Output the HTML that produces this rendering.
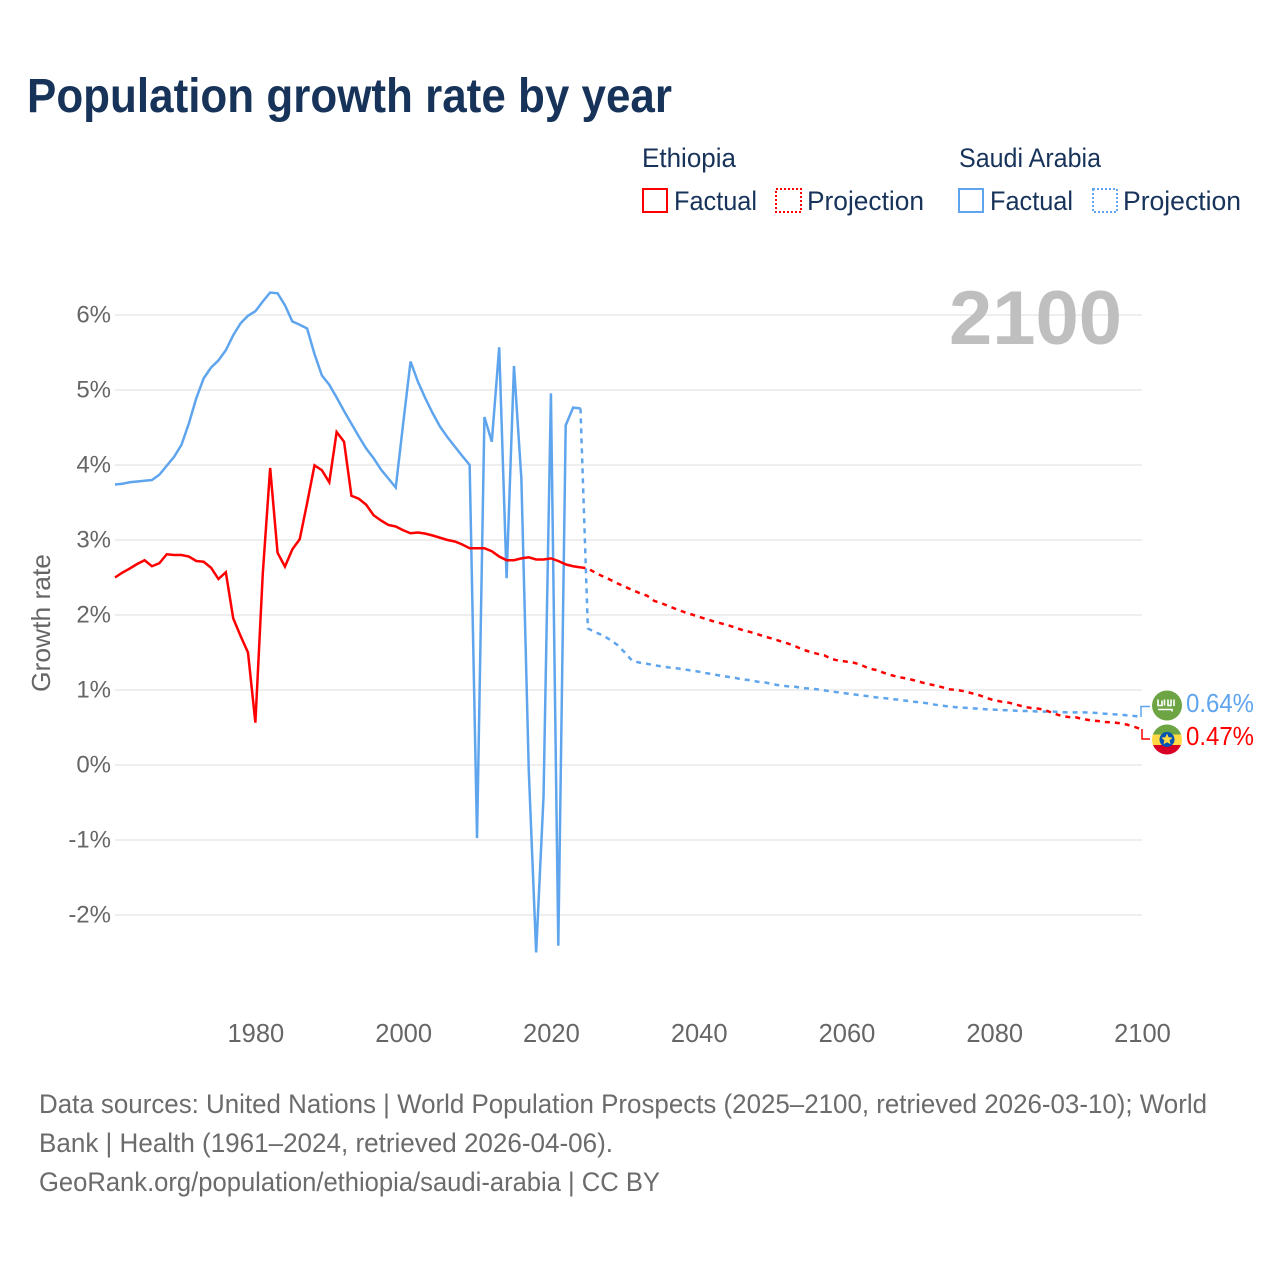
<!DOCTYPE html>
<html lang="en">
<head>
<meta charset="utf-8">
<title>Population growth rate by year</title>
<style>
html,body{margin:0;padding:0;background:#fff}
svg{display:block;font-family:"Liberation Sans",sans-serif}
</style>
</head>
<body>
<svg id="chart" xmlns="http://www.w3.org/2000/svg" width="1280" height="1280" viewBox="0 0 1280 1280">
  <rect x="0" y="0" width="1280" height="1280" fill="#ffffff"/>
  <text x="27" y="112" font-size="48" font-weight="700" fill="#17335a" textLength="645" lengthAdjust="spacingAndGlyphs">Population growth rate by year</text>

  <g font-size="27" fill="#17335a">
    <text x="642" y="167" textLength="94" lengthAdjust="spacingAndGlyphs">Ethiopia</text>
    <rect x="643" y="189" width="24" height="23" fill="none" stroke="#ff0000" stroke-width="2"/>
    <text x="674" y="210" textLength="83" lengthAdjust="spacingAndGlyphs">Factual</text>
    <rect x="776" y="189" width="25" height="23" fill="none" stroke="#ff0000" stroke-width="2" stroke-dasharray="2 2"/>
    <text x="807" y="210" textLength="117" lengthAdjust="spacingAndGlyphs">Projection</text>
    <text x="959" y="167" textLength="142" lengthAdjust="spacingAndGlyphs">Saudi Arabia</text>
    <rect x="959" y="189" width="24" height="23" fill="none" stroke="#5fa5ee" stroke-width="2"/>
    <text x="990" y="210" textLength="83" lengthAdjust="spacingAndGlyphs">Factual</text>
    <rect x="1093" y="189" width="24" height="23" fill="none" stroke="#5fa5ee" stroke-width="2" stroke-dasharray="2 2"/>
    <text x="1123" y="210" textLength="118" lengthAdjust="spacingAndGlyphs">Projection</text>
  </g>

  <g id="grid"></g>
  <text x="949" y="344" font-size="76" font-weight="700" fill="#bfbfbf" textLength="173" lengthAdjust="spacingAndGlyphs">2100</text>
  <g id="yticks" font-size="24" fill="#666666" text-anchor="end"></g>
  <g id="xticks" font-size="25.5" fill="#666666" text-anchor="middle"></g>
  <text transform="translate(50,692) rotate(-90)" font-size="26" fill="#666666" textLength="138" lengthAdjust="spacingAndGlyphs">Growth rate</text>
  <g id="series"></g>

  <g>
    <path d="M1141 717V706.5H1150" fill="none" stroke="#5fa5ee" stroke-width="1.5"/>
    <g>
      <circle cx="1167" cy="705.5" r="15" fill="#6da544"/>
      <path d="M1158 699.5v6h4v-5M1164.5 699.5v6M1168 699.5v6h3v-6M1174 699.5v6.5" fill="none" stroke="#ffffff" stroke-width="1.6"/>
      <path d="M1158 709.5h14v2" fill="none" stroke="#ffffff" stroke-width="1.6"/>
    </g>
    <text x="1186" y="712" font-size="26" fill="#5fa5ee" textLength="68" lengthAdjust="spacingAndGlyphs">0.64%</text>
  </g>
  <g>
    <path d="M1142 729V739H1150" fill="none" stroke="#ff0000" stroke-width="1.5"/>
    <g>
      <clipPath id="eth-clip"><circle cx="1167" cy="739.5" r="15"/></clipPath>
      <g clip-path="url(#eth-clip)">
        <rect x="1152" y="724" width="30" height="10.5" fill="#6da544"/>
        <rect x="1152" y="734.5" width="30" height="10.5" fill="#ffda44"/>
        <rect x="1152" y="745" width="30" height="10.5" fill="#d80027"/>
      </g>
      <circle cx="1167" cy="739.5" r="7.5" fill="#0052b4"/>
      <polygon points="1167,733.5 1168.6,737.3 1172.7,737.6 1169.6,740.3 1170.5,744.3 1167,742.2 1163.5,744.3 1164.4,740.3 1161.3,737.6 1165.4,737.3" fill="#ffda44"/>
    </g>
    <text x="1186" y="745" font-size="26" fill="#ff0000" textLength="68" lengthAdjust="spacingAndGlyphs">0.47%</text>
  </g>

  <g font-size="26.5" fill="#6b6b6b">
    <text x="39" y="1113" textLength="1168" lengthAdjust="spacingAndGlyphs">Data sources: United Nations | World Population Prospects (2025–2100, retrieved 2026-03-10); World</text>
    <text x="39" y="1152" textLength="574" lengthAdjust="spacingAndGlyphs">Bank | Health (1961–2024, retrieved 2026-04-06).</text>
    <text x="39" y="1191" textLength="621" lengthAdjust="spacingAndGlyphs">GeoRank.org/population/ethiopia/saudi-arabia | CC BY</text>
  </g>
</svg>
<script>
const factualYears = [1961,1962,1963,1964,1965,1966,1967,1968,1969,1970,1971,1972,1973,1974,1975,1976,1977,1978,1979,1980,1981,1982,1983,1984,1985,1986,1987,1988,1989,1990,1991,1992,1993,1994,1995,1996,1997,1998,1999,2000,2001,2002,2003,2004,2005,2006,2007,2008,2009,2010,2011,2012,2013,2014,2015,2016,2017,2018,2019,2020,2021,2022,2023,2024];
const projectionYears = [2025,2026,2027,2028,2029,2030,2031,2032,2033,2034,2035,2036,2037,2038,2039,2040,2041,2042,2043,2044,2045,2046,2047,2048,2049,2050,2051,2052,2053,2054,2055,2056,2057,2058,2059,2060,2061,2062,2063,2064,2065,2066,2067,2068,2069,2070,2071,2072,2073,2074,2075,2076,2077,2078,2079,2080,2081,2082,2083,2084,2085,2086,2087,2088,2089,2090,2091,2092,2093,2094,2095,2096,2097,2098,2099,2100];
const ethiopiaFactual = [2.50,2.565,2.62,2.68,2.73,2.65,2.69,2.81,2.80,2.80,2.78,2.72,2.71,2.63,2.48,2.57,1.955,1.72,1.50,0.565,2.55,3.96,2.83,2.645,2.875,3.01,3.49,3.995,3.93,3.77,4.44,4.31,3.59,3.55,3.47,3.33,3.26,3.20,3.18,3.13,3.09,3.10,3.085,3.06,3.03,3.00,2.98,2.94,2.89,2.89,2.89,2.85,2.78,2.73,2.73,2.755,2.77,2.74,2.74,2.755,2.72,2.675,2.65,2.635];
const saudiFactual = [3.74,3.75,3.77,3.78,3.79,3.80,3.87,3.99,4.11,4.27,4.555,4.89,5.155,5.30,5.395,5.53,5.73,5.89,5.99,6.05,6.18,6.30,6.29,6.13,5.915,5.87,5.82,5.48,5.195,5.07,4.90,4.72,4.55,4.38,4.22,4.09,3.94,3.82,3.70,4.55,5.38,5.11,4.89,4.69,4.51,4.37,4.245,4.12,4.00,-0.975,4.64,4.31,5.57,2.49,5.32,3.82,-0.07,-2.50,-0.42,4.955,-2.41,4.53,4.765,4.755];
const ethiopiaProjection = [2.622,2.564,2.516,2.471,2.422,2.378,2.333,2.293,2.258,2.187,2.156,2.116,2.076,2.04,2.009,1.978,1.947,1.916,1.889,1.862,1.831,1.796,1.773,1.742,1.711,1.684,1.653,1.622,1.587,1.542,1.511,1.484,1.462,1.413,1.391,1.378,1.364,1.333,1.289,1.267,1.231,1.2,1.173,1.156,1.133,1.107,1.08,1.062,1.036,1.009,1.0,0.982,0.956,0.929,0.893,0.862,0.844,0.831,0.804,0.778,0.76,0.751,0.729,0.689,0.658,0.64,0.636,0.613,0.596,0.587,0.573,0.569,0.556,0.538,0.507,0.476];
const saudiProjection = [1.82,1.77,1.73,1.67,1.60,1.50,1.39,1.365,1.35,1.33,1.315,1.30,1.29,1.275,1.26,1.245,1.225,1.21,1.19,1.175,1.16,1.14,1.13,1.11,1.10,1.08,1.06,1.05,1.045,1.025,1.02,1.01,0.995,0.98,0.967,0.954,0.941,0.929,0.916,0.902,0.893,0.88,0.871,0.858,0.844,0.836,0.822,0.804,0.791,0.778,0.769,0.764,0.756,0.751,0.742,0.738,0.733,0.729,0.724,0.72,0.72,0.711,0.711,0.711,0.707,0.702,0.702,0.702,0.698,0.693,0.684,0.676,0.671,0.662,0.653,0.64];
const yTickValues = [-2,-1,0,1,2,3,4,5,6];
const yTickLabels = ["-2%","-1%","0%","1%","2%","3%","4%","5%","6%"];
const xTickValues = [1980,2000,2020,2040,2060,2080,2100];
const xTickLabels = ["1980","2000","2020","2040","2060","2080","2100"];

const SVG_NS = "http://www.w3.org/2000/svg";
function xScale(year){ return 115 + (year - 1961) * (1142 - 115) / (2100 - 1961); }
function yScale(value){ return 765 - value * 75; }
function pathFrom(years, values){
  return years.map(function(yr, i){
    return (i ? "L" : "M") + xScale(yr).toFixed(2) + " " + yScale(values[i]).toFixed(2);
  }).join("");
}

const grid = document.getElementById("grid");
const yticks = document.getElementById("yticks");
yTickValues.forEach(function(v, i){
  const line = document.createElementNS(SVG_NS, "line");
  
  
  line.setAttribute("x1", 115);
  line.setAttribute("x2", 1142);
  line.setAttribute("y1", yScale(v));
  line.setAttribute("y2", yScale(v));
  line.setAttribute("stroke", "#eeeeee");
  line.setAttribute("stroke-width", "2");
  grid.appendChild(line);
  const t = document.createElementNS(SVG_NS, "text");
  
  
  t.setAttribute("x", 111);
  t.setAttribute("y", yScale(v) + 7.5);
  t.textContent = yTickLabels[i];
  yticks.appendChild(t);
});

const xticks = document.getElementById("xticks");
xTickValues.forEach(function(yr, i){
  const t = document.createElementNS(SVG_NS, "text");
  
  
  t.setAttribute("x", xScale(yr) + 0.5);
  t.setAttribute("y", 1042);
  t.textContent = xTickLabels[i];
  xticks.appendChild(t);
});

const series = document.getElementById("series");
function addLine(name, years, values, color, dash){
  const p = document.createElementNS(SVG_NS, "path");
  
  
  p.setAttribute("d", pathFrom(years, values));
  p.setAttribute("fill", "none");
  p.setAttribute("stroke", color);
  p.setAttribute("stroke-width", "2.5");
  p.setAttribute("stroke-linejoin", "miter");
  if (dash) p.setAttribute("stroke-dasharray", dash);
  series.appendChild(p);
}
const lastFactualYear = factualYears[factualYears.length - 1];
addLine("line-saudi-arabia-factual", factualYears, saudiFactual, "#5fa5ee");
addLine("line-saudi-arabia-projection", [lastFactualYear].concat(projectionYears), [saudiFactual[saudiFactual.length - 1]].concat(saudiProjection), "#5fa5ee", "5 5");
addLine("line-ethiopia-factual", factualYears, ethiopiaFactual, "#ff0000");
addLine("line-ethiopia-projection", [lastFactualYear].concat(projectionYears), [ethiopiaFactual[ethiopiaFactual.length - 1]].concat(ethiopiaProjection), "#ff0000", "5 5");
</script>
</body>
</html>
